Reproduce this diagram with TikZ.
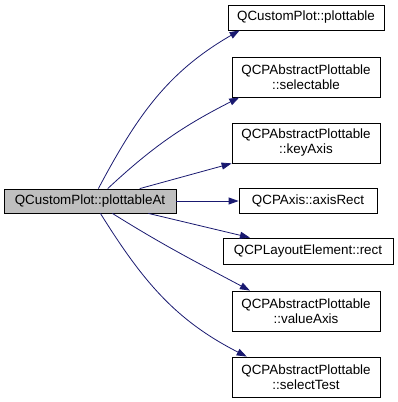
\documentclass[tikz,border=0pt]{standalone}
\usepackage{fontspec}
\setmainfont{Liberation Sans}
\usetikzlibrary{arrows.meta}
\definecolor{edgeblue}{HTML}{191970}
\definecolor{callerfill}{HTML}{BFBFBF}
\begin{document}
\begin{tikzpicture}[x=1pt,y=1pt,
  fn/.style={draw=black, line width=0.8pt, fill=white, inner sep=0pt,
    align=center, font=\fontsize{13.4}{15}\selectfont},
  caller/.style={fn, fill=callerfill},
  call/.style={draw=edgeblue, line width=0.8pt,
    -{Triangle[length=10pt,width=7pt]}, color=edgeblue}]
\useasboundingbox (0,0) rectangle (397,-402);

% calling function
\node[caller, minimum width=172pt, minimum height=24pt] (at) at (90,-201) {QCustomPlot::plottableAt};

% called functions
\node[fn, minimum width=156pt, minimum height=25pt] (p1) at (306,-17.5) {QCustomPlot::plottable};
\node[fn, minimum width=148pt, minimum height=40pt] (p2) at (306,-77) {QCPAbstractPlottable\\::selectable};
\node[fn, minimum width=148pt, minimum height=40pt] (p3) at (306,-143) {QCPAbstractPlottable\\::keyAxis};
\node[fn, minimum width=138pt, minimum height=25pt] (p4) at (308,-201) {QCPAxis::axisRect};
\node[fn, minimum width=170pt, minimum height=26pt] (p5) at (308,-251) {QCPLayoutElement::rect};
\node[fn, minimum width=148pt, minimum height=40pt] (p6) at (306,-311) {QCPAbstractPlottable\\::valueAxis};
\node[fn, minimum width=148pt, minimum height=40pt] (p7) at (306,-377) {QCPAbstractPlottable\\::selectTest};

% call edges
\draw[call] (at.56) to[out=62,in=210] (p1.191);
\draw[call] (at.35) to[out=43,in=207] (p2.197);
\draw[call] (at.14) -- (p3.south west);
\draw[call] (at.east) -- (p4.west);
\draw[call] (at.-12) -- (p5.167);
\draw[call] (at.-29) to[out=-32,in=152] (p6.160);
\draw[call] (at.-50) to[out=-58,in=153] (p7.161);
\end{tikzpicture}
\end{document}
